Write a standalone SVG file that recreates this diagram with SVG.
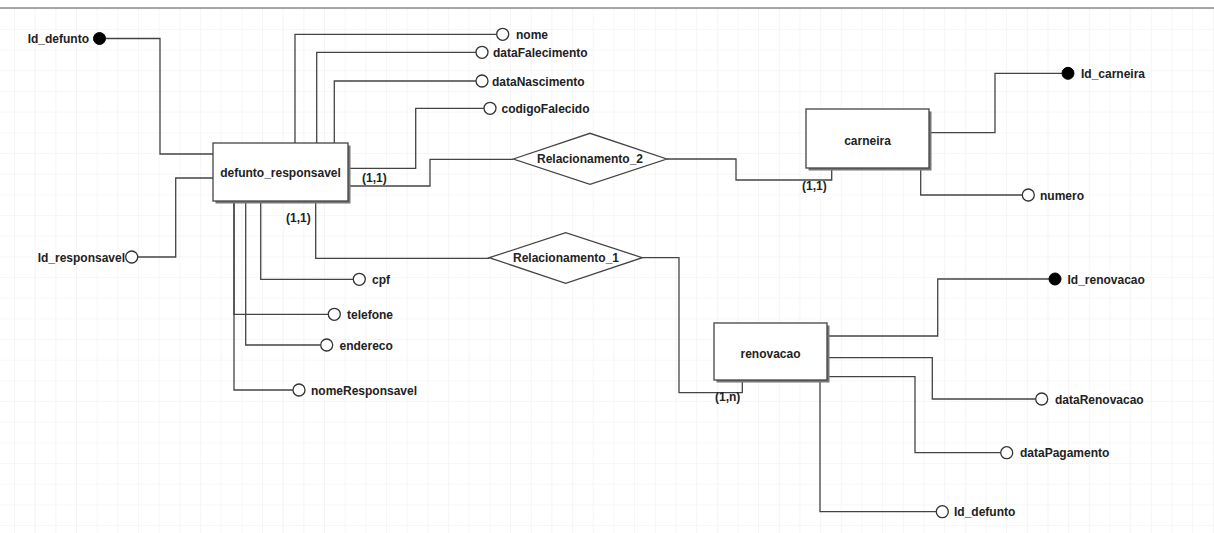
<svg xmlns="http://www.w3.org/2000/svg" width="1214" height="533" viewBox="0 0 1214 533">
<defs>
<pattern id="grid" x="14" y="8.3" width="20.67" height="20.67" patternUnits="userSpaceOnUse">
<path d="M0 0 H20.67 M0 0 V20.67" fill="none" stroke="#efefef" stroke-width="1.2"/>
</pattern>
<style>
.t{font-family:"Liberation Sans",Arial,sans-serif;font-weight:bold;font-size:12px;fill:#222}
.c{stroke:#444;stroke-width:1.3;fill:none}
.ent{fill:#fff;stroke:#444;stroke-width:1.3}
.sh{fill:#777}
.rel{fill:#fff;stroke:#444;stroke-width:1.3}
.ao{fill:#fff;stroke:#333;stroke-width:1.3}
.ak{fill:#000;stroke:#000;stroke-width:1}
</style>
</defs>
<rect width="1214" height="533" fill="#fff"/>
<rect x="0" y="8" width="1214" height="525" fill="url(#grid)"/>
<line x1="0" y1="8" x2="1214" y2="8" stroke="#888" stroke-width="1.5"/>

<g id="connectors">
<!-- defunto_responsavel attributes -->
<path class="c" d="M106 38.5 H160 V154 H213"/>
<path class="c" d="M138 257 H175.7 V178 H213"/>
<path class="c" d="M295 143 V34.3 H496"/>
<path class="c" d="M316.7 143 V52.3 H476"/>
<path class="c" d="M334.3 143 V81 H476"/>
<path class="c" d="M348 168.3 H415.7 V108.3 H484"/>
<path class="c" d="M260.7 201 V279.3 H353"/>
<path class="c" d="M234 201 V314.3 H328"/>
<path class="c" d="M245.7 201 V345 H320.5"/>
<path class="c" d="M234 201 V390 H293"/>
<!-- relationships -->
<path class="c" d="M348 186 H430 V159.3 H513.3"/>
<path class="c" d="M666.7 159 H736 V180 H831.7 V170"/>
<path class="c" d="M315.7 201 V258.3 H489.3"/>
<path class="c" d="M642.3 257.7 H679 V392.7 H742.3 V380"/>
<!-- carneira attributes -->
<path class="c" d="M929 132.7 H995 V73.3 H1062"/>
<path class="c" d="M920.7 170 V195 H1022.3"/>
<!-- renovacao attributes -->
<path class="c" d="M827.3 336 H937.7 V279 H1049"/>
<path class="c" d="M827.3 357.7 H932.3 V399 H1035.7"/>
<path class="c" d="M827.3 376.7 H915 V452.7 H1000.7"/>
<path class="c" d="M820 382 V511.7 H936.3"/>
<text class="t" x="362" y="182">(1,1)</text>
<text class="t" x="286" y="222">(1,1)</text>
<text class="t" x="802" y="190">(1,1)</text>
<text class="t" x="715" y="401">(1,n)</text>
</g>

<g id="defunto_responsavel">
<rect class="sh" x="215.5" y="145.5" width="135" height="58"/>
<rect class="ent" x="213" y="143" width="135" height="58"/>
<text class="t" x="280.5" y="177" text-anchor="middle">defunto_responsavel</text>
</g>

<g id="carneira">
<rect class="sh" x="808.5" y="111.5" width="123" height="59"/>
<rect class="ent" x="806" y="109" width="123" height="59"/>
<text class="t" x="867.5" y="144.5" text-anchor="middle">carneira</text>
</g>

<g id="renovacao">
<rect class="sh" x="716.5" y="325.5" width="113" height="57"/>
<rect class="ent" x="714" y="323" width="113" height="57"/>
<text class="t" x="770.5" y="358" text-anchor="middle">renovacao</text>
</g>

<g id="Relacionamento_2">
<polygon class="rel" points="513.3,159 590,133.3 666.7,159 590,184.3"/>
<text class="t" x="590" y="163" text-anchor="middle">Relacionamento_2</text>
</g>

<g id="Relacionamento_1">
<polygon class="rel" points="489.3,257.7 565.7,232.7 642.3,257.7 565.7,283.3"/>
<text class="t" x="566" y="262" text-anchor="middle">Relacionamento_1</text>
</g>

<g id="attr_Id_defunto">
<circle class="ak" cx="99.5" cy="38.5" r="6"/>
<text class="t" x="89" y="43" text-anchor="end">Id_defunto</text>
</g>
<g id="attr_Id_responsavel">
<circle class="ao" cx="131.7" cy="257" r="6"/>
<text class="t" x="125" y="261.5" text-anchor="end">Id_responsavel</text>
</g>
<g id="attr_nome">
<circle class="ao" cx="502.7" cy="34.3" r="6"/>
<text class="t" x="516" y="39">nome</text>
</g>
<g id="attr_dataFalecimento">
<circle class="ao" cx="482" cy="52.3" r="6"/>
<text class="t" x="493" y="57">dataFalecimento</text>
</g>
<g id="attr_dataNascimento">
<circle class="ao" cx="482" cy="81" r="6"/>
<text class="t" x="492" y="85.5">dataNascimento</text>
</g>
<g id="attr_codigoFalecido">
<circle class="ao" cx="490" cy="108.3" r="6"/>
<text class="t" x="501.5" y="113">codigoFalecido</text>
</g>
<g id="attr_cpf">
<circle class="ao" cx="359.3" cy="279.3" r="6"/>
<text class="t" x="372" y="284">cpf</text>
</g>
<g id="attr_telefone">
<circle class="ao" cx="334.3" cy="314.3" r="6"/>
<text class="t" x="347" y="319">telefone</text>
</g>
<g id="attr_endereco">
<circle class="ao" cx="326.7" cy="345" r="6"/>
<text class="t" x="339.5" y="349.5">endereco</text>
</g>
<g id="attr_nomeResponsavel">
<circle class="ao" cx="299" cy="390" r="6"/>
<text class="t" x="311" y="394.5">nomeResponsavel</text>
</g>
<g id="attr_Id_carneira">
<circle class="ak" cx="1068" cy="73.3" r="6"/>
<text class="t" x="1081" y="78">Id_carneira</text>
</g>
<g id="attr_numero">
<circle class="ao" cx="1028.3" cy="195" r="6"/>
<text class="t" x="1040" y="199.5">numero</text>
</g>
<g id="attr_Id_renovacao">
<circle class="ak" cx="1055" cy="279" r="6"/>
<text class="t" x="1067.5" y="283.5">Id_renovacao</text>
</g>
<g id="attr_dataRenovacao">
<circle class="ao" cx="1041.7" cy="399" r="6"/>
<text class="t" x="1055" y="403.5">dataRenovacao</text>
</g>
<g id="attr_dataPagamento">
<circle class="ao" cx="1006.7" cy="452.7" r="6"/>
<text class="t" x="1020" y="457">dataPagamento</text>
</g>
<g id="attr_Id_defunto_renovacao">
<circle class="ao" cx="942.3" cy="511.7" r="6"/>
<text class="t" x="954" y="516">Id_defunto</text>
</g>
</svg>
